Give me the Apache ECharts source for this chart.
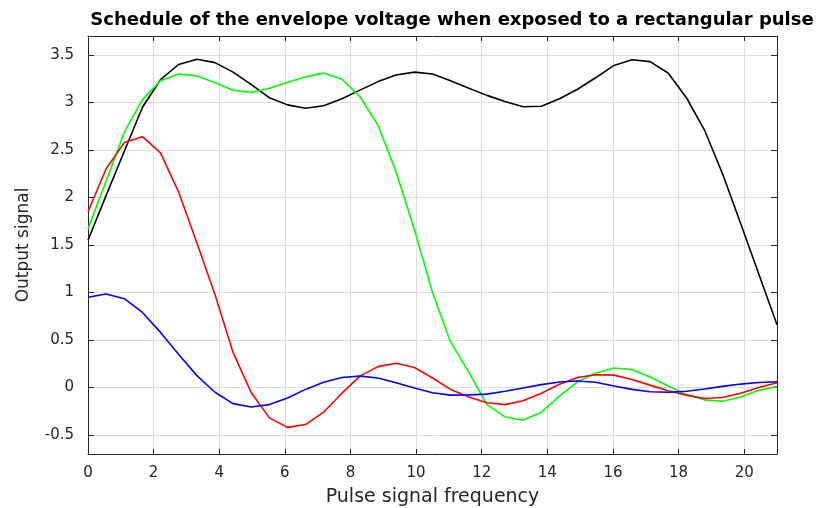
<!DOCTYPE html>
<html>
<head>
<meta charset="utf-8">
<script src="https://cdn.jsdelivr.net/npm/echarts@6/dist/echarts.min.js"></script>
<style>
html,body{margin:0;padding:0;background:#fff;}
#chart{width:824px;height:508px;}
</style>
</head>
<body>
<div id="chart"></div>
<script>
const titleText = 'Schedule of the envelope voltage when exposed to a rectangular pulse';
const xName = 'Pulse signal frequency';
const yName = 'Output signal';

const freq = [0, 0.55, 1.11, 1.66, 2.21, 2.76, 3.32, 3.87, 4.42, 4.97,
  5.53, 6.08, 6.63, 7.18, 7.74, 8.29, 8.84, 9.39, 9.95, 10.5,
  11.05, 11.61, 12.16, 12.71, 13.26, 13.82, 14.37, 14.92, 15.47, 16.03,
  16.58, 17.13, 17.68, 18.24, 18.79, 19.34, 19.89, 20.45, 21];

const blackVals = [1.55, 2.02, 2.49, 2.95, 3.24, 3.40, 3.455, 3.42, 3.32, 3.19,
  3.05, 2.975, 2.94, 2.965, 3.04, 3.13, 3.22, 3.29, 3.32, 3.30,
  3.23, 3.15, 3.075, 3.01, 2.955, 2.96, 3.04, 3.14, 3.26, 3.39,
  3.45, 3.43, 3.31, 3.05, 2.71, 2.25, 1.73, 1.19, 0.66];

const greenVals = [1.67, 2.17, 2.69, 3.03, 3.23, 3.30, 3.28, 3.21, 3.13, 3.105,
  3.15, 3.21, 3.27, 3.31, 3.245, 3.06, 2.76, 2.27, 1.66, 1.00,
  0.48, 0.16, -0.18, -0.31, -0.345, -0.26, -0.09, 0.06, 0.15, 0.205,
  0.19, 0.11, 0.015, -0.075, -0.13, -0.145, -0.10, -0.03, 0.01];

const redVals = [1.85, 2.30, 2.58, 2.64, 2.47, 2.06, 1.52, 0.98, 0.37, -0.05,
  -0.32, -0.42, -0.39, -0.26, -0.06, 0.12, 0.22, 0.255, 0.21, 0.10,
  -0.02, -0.10, -0.16, -0.18, -0.14, -0.06, 0.035, 0.105, 0.135, 0.13,
  0.085, 0.025, -0.035, -0.08, -0.115, -0.105, -0.06, 0.0, 0.05];

const blueVals = [0.95, 0.985, 0.935, 0.79, 0.58, 0.35, 0.125, -0.05, -0.17, -0.205,
  -0.18, -0.11, -0.02, 0.055, 0.105, 0.12, 0.10, 0.05, -0.005, -0.055,
  -0.08, -0.078, -0.07, -0.04, -0.005, 0.03, 0.058, 0.068, 0.055, 0.015,
  -0.02, -0.045, -0.05, -0.04, -0.015, 0.012, 0.036, 0.053, 0.06];

const xTicks = [0, 2, 4, 6, 8, 10, 12, 14, 16, 18, 20];
const yTicks = [-0.5, 0, 0.5, 1, 1.5, 2, 2.5, 3, 3.5];

const pairs = vals => freq.map((f, i) => [f, vals[i]]);

const axisColor = '#262626';
const gridColor = '#dedede';
const fontFam = 'DejaVu Sans, Liberation Sans, sans-serif';

const chart = echarts.init(document.getElementById('chart'), null, {renderer: 'canvas'});
chart.setOption({
  animation: false,
  backgroundColor: '#ffffff',
  title: {
    text: titleText,
    left: 447, top: 6, textAlign: 'center',
    textStyle: {fontFamily: fontFam, fontWeight: 'bold', fontSize: 18, color: '#000'}
  },
  grid: {left: 88, right: 47, top: 36, bottom: 54, containLabel: false, outerBoundsMode: 'none'},
  xAxis: [{
    type: 'value', min: 0, max: 21, position: 'bottom',
    name: xName, nameLocation: 'middle', nameGap: 34,
    nameTextStyle: {fontFamily: fontFam, fontSize: 19, color: axisColor},
    axisLine: {show: true, onZero: false, lineStyle: {color: axisColor, width: 1}},
    axisTick: {show: true, inside: true, length: 5, customValues: xTicks, lineStyle: {color: axisColor}},
    axisLabel: {customValues: xTicks, margin: 12, fontFamily: fontFam, fontSize: 15, color: axisColor},
    splitLine: {show: true, lineStyle: {color: gridColor, width: 1}}
  }, {
    type: 'value', min: 0, max: 21, position: 'top',
    axisLine: {show: true, onZero: false, lineStyle: {color: axisColor, width: 1}},
    axisTick: {show: true, inside: true, length: 5, customValues: xTicks, lineStyle: {color: axisColor}},
    axisLabel: {show: false},
    splitLine: {show: false}
  }],
  yAxis: [{
    type: 'value', min: -0.7, max: 3.7, position: 'left',
    name: yName, nameLocation: 'middle', nameGap: 56, nameRotate: 90,
    nameTextStyle: {fontFamily: fontFam, fontSize: 17, color: axisColor},
    axisLine: {show: true, onZero: false, lineStyle: {color: axisColor, width: 1}},
    axisTick: {show: true, inside: true, length: 6, customValues: yTicks, lineStyle: {color: axisColor}},
    axisLabel: {customValues: yTicks, margin: 14, fontFamily: fontFam, fontSize: 15, color: axisColor},
    splitLine: {show: true, lineStyle: {color: gridColor, width: 1}}
  }, {
    type: 'value', min: -0.7, max: 3.7, position: 'right',
    axisLine: {show: true, onZero: false, lineStyle: {color: axisColor, width: 1}},
    axisTick: {show: true, inside: true, length: 6, customValues: yTicks, lineStyle: {color: axisColor}},
    axisLabel: {show: false},
    splitLine: {show: false}
  }],
  series: [
    {type: 'line', name: 'black', data: pairs(blackVals), showSymbol: false, symbol: 'none',
     lineStyle: {color: '#000000', width: 1.6}, itemStyle: {color: '#000000'}, z: 2},
    {type: 'line', name: 'green', data: pairs(greenVals), showSymbol: false, symbol: 'none',
     lineStyle: {color: '#00ff00', width: 1.6}, itemStyle: {color: '#00ff00'}, z: 3},
    {type: 'line', name: 'red', data: pairs(redVals), showSymbol: false, symbol: 'none',
     lineStyle: {color: '#ff0000', width: 1.6}, itemStyle: {color: '#ff0000'}, z: 4},
    {type: 'line', name: 'blue', data: pairs(blueVals), showSymbol: false, symbol: 'none',
     lineStyle: {color: '#0000ff', width: 1.6}, itemStyle: {color: '#0000ff'}, z: 5}
  ]
});
</script>
</body>
</html>
